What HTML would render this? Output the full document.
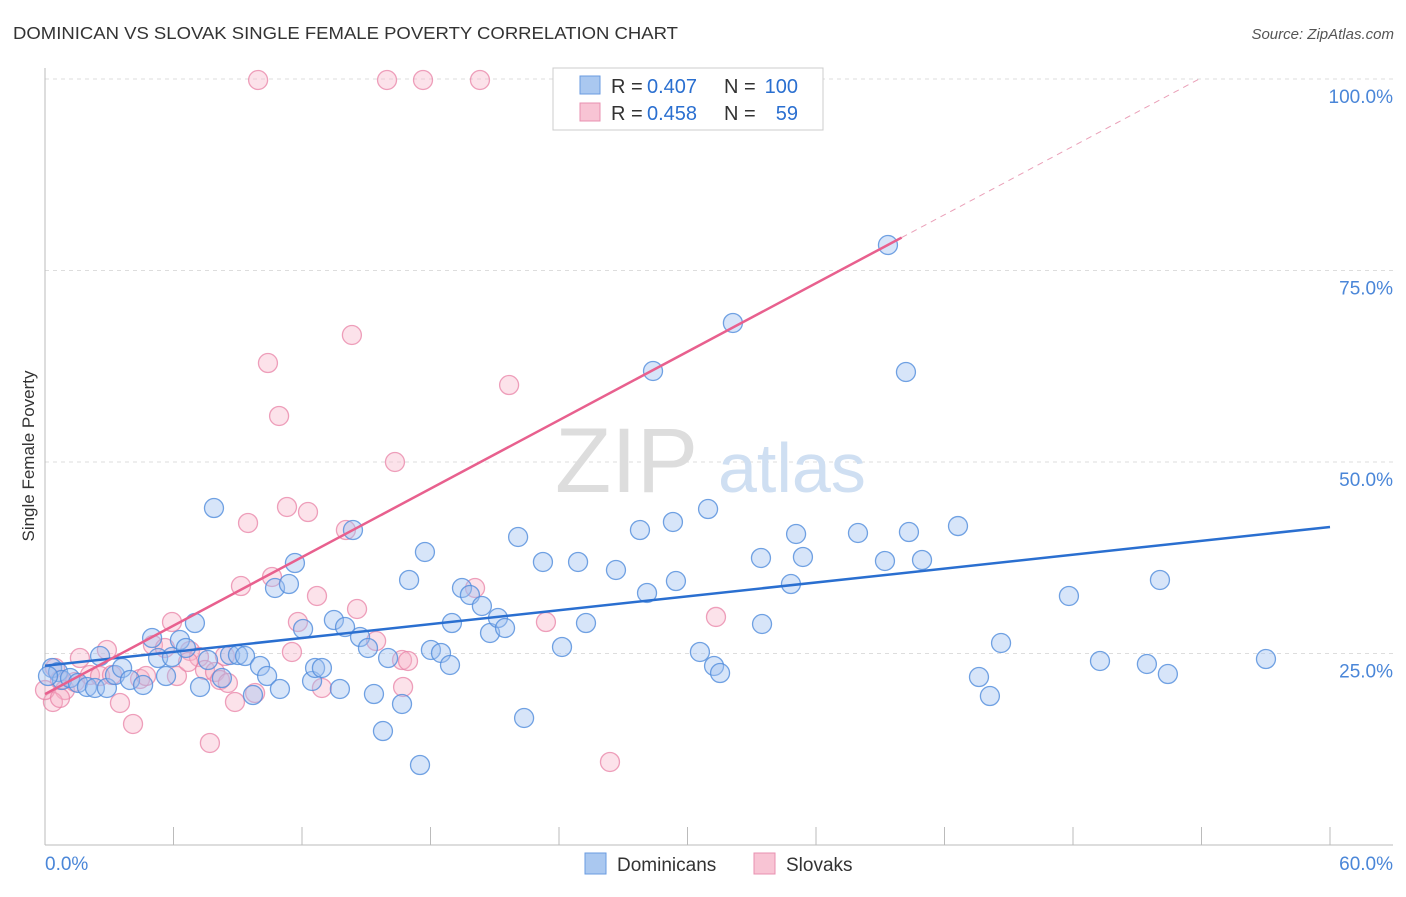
<!DOCTYPE html>
<html><head><meta charset="utf-8">
<style>
body{margin:0;background:#fff;font-family:"Liberation Sans",sans-serif;}
svg text{font-family:"Liberation Sans",sans-serif;}
</style></head>
<body>
<svg id="c" width="1406" height="892" viewBox="0 0 1406 892">
<text x="13" y="39" font-size="17.5" fill="#333" textLength="665" lengthAdjust="spacingAndGlyphs">DOMINICAN VS SLOVAK SINGLE FEMALE POVERTY CORRELATION CHART</text>
<text x="1394" y="39" font-size="15" fill="#555" font-style="italic" text-anchor="end">Source: ZipAtlas.com</text>
<text x="34" y="456" font-size="17" fill="#333" text-anchor="middle" transform="rotate(-90 34 456)">Single Female Poverty</text>
<g id="grid"></g>
<g id="axes"></g>
<text x="555" y="492" font-size="92" fill="#ddd" font-family="Liberation Serif">ZIP</text>
<text x="718" y="492" font-size="70" fill="#cfdff2">atlas</text>
<g id="pink"></g>
<g id="blue"></g>
<g id="lines"></g>
<g>
<rect x="553" y="68" width="270" height="62" fill="#fff" stroke="#ccc"/>
<rect x="580" y="76" width="20" height="18" fill="#aac8f0" stroke="#6a9be0"/>
<rect x="580" y="103" width="20" height="18" fill="#f8c4d4" stroke="#e890b0"/>
<text x="611" y="93" font-size="20" fill="#333">R =</text>
<text x="647" y="93" font-size="20" fill="#2a6fd0">0.407</text>
<text x="724" y="93" font-size="20" fill="#333">N =</text>
<text x="798" y="93" font-size="20" fill="#2a6fd0" text-anchor="end">100</text>
<text x="611" y="120" font-size="20" fill="#333">R =</text>
<text x="647" y="120" font-size="20" fill="#2a6fd0">0.458</text>
<text x="724" y="120" font-size="20" fill="#333">N =</text>
<text x="798" y="120" font-size="20" fill="#2a6fd0" text-anchor="end">59</text>
</g>
<g>
<rect x="585" y="853" width="21" height="21" fill="#aac8f0" stroke="#6a9be0"/>
<text x="617" y="871" font-size="19" fill="#333">Dominicans</text>
<rect x="754" y="853" width="21" height="21" fill="#f8c4d4" stroke="#e890b0"/>
<text x="786" y="871" font-size="19" fill="#333">Slovaks</text>
</g>
</svg>
<script>
const yTicks=[25,50,75,100];
const yTickLabels=["25.0%","50.0%","75.0%","100.0%"];
const xTicks=[0,6,12,18,24,30,36,42,48,54,60];
const xEndLabels=["0.0%","60.0%"];
const blueLine=[23.4,0.302];   // intercept, slope
const pinkLine=[19.7,1.49];
const bluePx=[[52,668],[58,672],[62,680],[70,678],[78,683],[87,687],[95,688],[100,656],[107,688],[115,675],[122,668],[130,680],[143,685],[152,638],[158,658],[166,676],[172,657],[180,640],[186,648],[195,623],[200,687],[208,660],[214,508],[222,678],[230,655],[238,655],[245,656],[253,695],[260,666],[267,676],[280,689],[275,588],[289,584],[295,563],[303,629],[312,681],[315,668],[322,668],[334,620],[340,689],[345,627],[353,530],[360,637],[368,648],[374,694],[383,731],[388,658],[402,704],[409,580],[420,765],[425,552],[431,650],[441,653],[450,665],[452,623],[462,588],[470,595],[482,606],[490,633],[498,618],[505,628],[518,537],[524,718],[543,562],[562,647],[578,562],[586,623],[616,570],[640,530],[647,593],[653,371],[673,522],[676,581],[700,652],[708,509],[714,666],[720,673],[733,323],[761,558],[762,624],[791,584],[796,534],[803,557],[858,533],[885,561],[888,245],[906,372],[909,532],[922,560],[958,526],[979,677],[990,696],[1001,643],[1069,596],[1100,661],[1147,664],[1160,580],[1168,674],[1266,659],[48,676]];
const pinkPx=[[258,80],[387,80],[423,80],[480,80],[352,335],[268,363],[279,416],[395,462],[509,385],[287,507],[308,512],[248,523],[346,530],[475,588],[241,586],[272,577],[317,596],[357,609],[298,622],[546,622],[716,617],[376,641],[172,622],[107,650],[153,645],[165,648],[190,651],[199,657],[225,656],[292,652],[80,658],[55,668],[60,680],[65,690],[75,682],[90,675],[100,676],[112,675],[120,703],[133,724],[140,679],[146,676],[177,676],[188,662],[205,670],[215,672],[220,680],[228,683],[235,702],[255,693],[210,743],[322,688],[402,660],[408,661],[403,687],[610,762],[53,702],[45,690],[60,698]];
const blueX=bluePx.map(p=>+((p[0]-45)/21.417).toFixed(2));
const blueY=bluePx.map(p=>+((845-p[1])/7.66).toFixed(2));
const pinkX=pinkPx.map(p=>+((p[0]-45)/21.417).toFixed(2));
const pinkY=pinkPx.map(p=>+((845-p[1])/7.66).toFixed(2));

const NS="http://www.w3.org/2000/svg";
const xs=v=>45+v*(1330-45)/60;
const ys=v=>845-v*(845-79)/100;
function mk(tag,attrs,parent){const e=document.createElementNS(NS,tag);for(const k in attrs)e.setAttribute(k,attrs[k]);parent.appendChild(e);return e;}
const grid=document.getElementById('grid'),axes=document.getElementById('axes');
yTicks.forEach((t,i)=>{
  const l=mk('line',{x1:45,x2:1393,y1:ys(t),y2:ys(t),stroke:'#ddd','stroke-dasharray':'4,4'},grid);
  
  
  const tx=mk('text',{x:1393,y:ys(t)+24,'font-size':19,fill:'#4a86d8','text-anchor':'end'},axes);
  tx.textContent=yTickLabels[i];
  
  
});
mk('line',{x1:45,x2:45,y1:68,y2:845,stroke:'#bbb'},axes);
mk('line',{x1:45,x2:1393,y1:845,y2:845,stroke:'#bbb'},axes);
xTicks.forEach(t=>{
  const l=mk('line',{x1:xs(t),x2:xs(t),y1:827,y2:845,stroke:'#bbb'},axes);
  
  
});
const xl0=mk('text',{x:45,y:870,'font-size':19,fill:'#4a86d8'},axes);xl0.textContent=xEndLabels[0];


const xl1=mk('text',{x:1393,y:870,'font-size':19,fill:'#4a86d8','text-anchor':'end'},axes);xl1.textContent=xEndLabels[1];


function pts(X,Y,g,fill,stroke,name){X.forEach((x,i)=>{
  const c=mk('circle',{cx:xs(x),cy:ys(Y[i]),r:9.5,fill:fill,stroke:stroke,'stroke-width':1.3},g);
  
  
});}
pts(pinkX,pinkY,document.getElementById('pink'),'rgba(246,178,200,0.38)','rgba(232,130,165,0.75)','slovak-point');
pts(blueX,blueY,document.getElementById('blue'),'rgba(160,192,240,0.42)','rgba(80,140,220,0.8)','dominican-point');
const lg=document.getElementById('lines');
const bl=mk('line',{x1:xs(0),y1:ys(blueLine[0]),x2:xs(60),y2:ys(blueLine[0]+blueLine[1]*60),stroke:'#2a6fd0','stroke-width':2.5},lg);


const pl=mk('line',{x1:xs(0),y1:ys(pinkLine[0]),x2:xs(40),y2:ys(pinkLine[0]+pinkLine[1]*40),stroke:'#e8608e','stroke-width':2.5},lg);


const xe=(100-pinkLine[0])/pinkLine[1];
const pd=mk('line',{x1:xs(40),y1:ys(pinkLine[0]+pinkLine[1]*40),x2:xs(xe),y2:ys(100),stroke:'#eaa0b8','stroke-width':1,'stroke-dasharray':'6,5'},lg);


</script>
</body></html>
